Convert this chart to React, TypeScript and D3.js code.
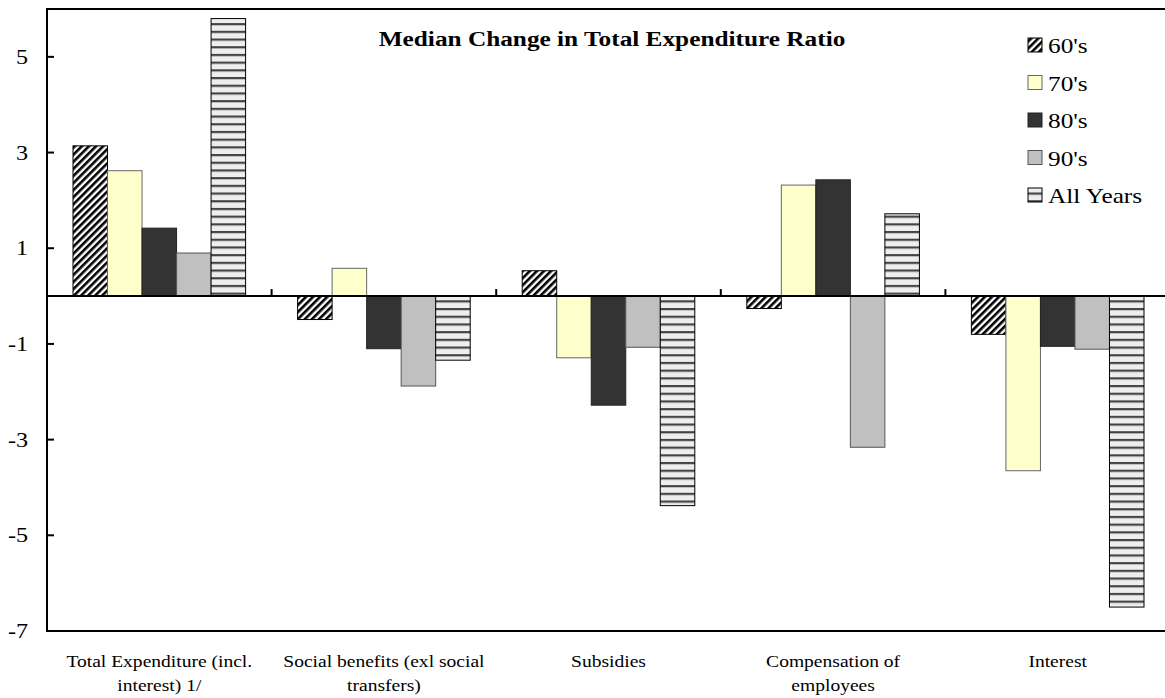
import React from "react";
import * as d3 from "d3";

const categories = [
  ["Total Expenditure (incl.", "interest) 1/"],
  ["Social benefits (exl social", "transfers)"],
  ["Subsidies", ""],
  ["Compensation of", "employees"],
  ["Interest", ""],
];
const seriesNames = ["60's", "70's", "80's", "90's", "All Years"];
const s60 = [3.14, -0.49, 0.53, -0.26, -0.8];
const s70 = [2.62, 0.58, -1.29, 2.32, -3.65];
const s80 = [1.42, -1.1, -2.28, 2.43, -1.05];
const s90 = [0.9, -1.88, -1.07, -3.16, -1.11];
const sAll = [5.8, -1.34, -4.38, 1.72, -6.5];
const yTicks = [5, 3, 1, -1, -3, -5, -7];
const title = "Median Change in Total Expenditure Ratio";

const seriesValues = [s60, s70, s80, s90, sAll];
const fills = ["url(#diag)", "#FFFFCC", "#333333", "#C0C0C0", "url(#hstripe)"];
const strokes = ["#000", "#666", "#222", "#555", "#000"];

const FONT = "Liberation Serif";
const SX = 1.15;

function T(props: { x: number; y: number; size: number; anchor?: string; bold?: boolean; children: any }) {
  const { x, y, size, anchor, bold, children } = props;
  return (
    <text
      transform={`translate(${x},${y}) scale(${SX},1)`}
      textAnchor={anchor || "start"}
      fontSize={size}
      fontWeight={bold ? "bold" : "normal"}
      style={{ fontFamily: FONT }}
      fill="#000"
    >
      {children}
    </text>
  );
}

export default function App() {
  const W = 1165, H = 698;
  const left = 47, right = 1170, top = 9, bottom = 631;
  const y = d3.scaleLinear().domain([-7, 6]).range([bottom, top]);
  const x0 = d3.scaleBand().domain(d3.range(categories.length).map(String)).range([left, right]);
  const bw = x0.bandwidth();
  const x1 = d3.scaleBand().domain(d3.range(seriesNames.length).map(String)).range([26, bw - 26]);
  const y0 = y(0);
  return (
    <svg width={W} height={H} style={{ position: "absolute", left: 0, top: 0, background: "#fff" }}>
      <defs>
        <pattern id="diag" patternUnits="userSpaceOnUse" width="5" height="5" patternTransform="rotate(45)">
          <rect width="5" height="5" fill="#fff" />
          <rect x="0" y="0" width="2.6" height="5" fill="#000" />
        </pattern>
        <pattern id="hstripe" patternUnits="userSpaceOnUse" width="10" height="7.7">
          <rect width="10" height="7.7" fill="#EEEEEE" />
          <rect x="0" y="0" width="10" height="2.2" fill="#444" />
        </pattern>
      </defs>
      {/* frame */}
      <rect x={left} y={top} width={right - left} height={bottom - top} fill="none" stroke="#000" strokeWidth={2} />
      {/* y ticks */}
      {yTicks.map((t) => (
        <g key={t}>
          <line x1={left} x2={left + 7} y1={y(t)} y2={y(t)} stroke="#000" strokeWidth={2} />
          <T x={28} y={y(t) + 7} size={21} anchor="end">{t}</T>
        </g>
      ))}
      {/* bars */}
      {categories.map((c, ci) =>
        seriesValues.map((vals, si) => {
          const v = vals[ci];
          const bx = (x0(String(ci)) as number) + (x1(String(si)) as number);
          const yt = Math.min(y(v), y0);
          const h = Math.abs(y(v) - y0);
          return (
            <rect key={ci + "-" + si} x={bx} y={yt} width={x1.bandwidth()} height={h}
              fill={fills[si]} stroke={strokes[si]} strokeWidth={1} />
          );
        })
      )}
      {/* zero line */}
      <line x1={left} x2={W} y1={y0} y2={y0} stroke="#000" strokeWidth={2} />
      {d3.range(1, categories.length).map((i) => {
        const xx = x0(String(i)) as number;
        return <line key={i} x1={xx} x2={xx} y1={y0 - 7} y2={y0} stroke="#000" strokeWidth={2} />;
      })}
      {/* category labels */}
      {categories.map((c, ci) => {
        const cx = (x0(String(ci)) as number) + bw / 2;
        return (
          <g key={ci}>
            <T x={cx} y={667} size={17} anchor="middle">{c[0]}</T>
            {c[1] ? <T x={cx} y={691} size={17} anchor="middle">{c[1]}</T> : null}
          </g>
        );
      })}
      {/* title */}
      <T x={612} y={46} size={22} anchor="middle" bold>{title}</T>
      {/* legend */}
      {seriesNames.map((n, i) => {
        const by = 53 + i * 37.5;
        return (
          <g key={n}>
            <rect x={1028} y={by - 15} width={14} height={14} fill={fills[i]} stroke={strokes[i]} strokeWidth={1} />
            <T x={1048} y={by} size={22}>{n}</T>
          </g>
        );
      })}
    </svg>
  );
}
